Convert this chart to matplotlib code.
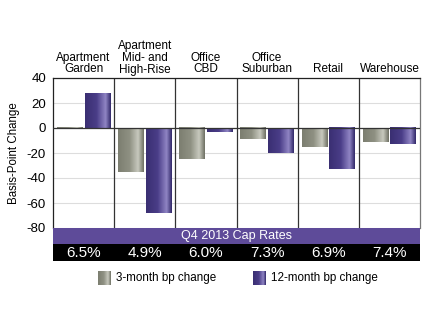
import numpy as np
import matplotlib.pyplot as plt
from matplotlib.colors import LinearSegmentedColormap

plt.rcParams['font.family'] = ['Liberation Sans', 'DejaVu Sans']

categories = ["Apartment\nGarden", "Apartment\nMid- and\nHigh-Rise", "Office\nCBD",
              "Office\nSuburban", "Retail", "Warehouse"]
change_3m = [0.6, -35, -25, -9, -15, -11]
change_12m = [28, -68, -3, -20, -33, -13]
cap_rates = ["6.5%", "4.9%", "6.0%", "7.3%", "6.9%", "7.4%"]
band_title = "Q4 2013 Cap Rates"
yticks = [40, 20, 0, -20, -40, -60, -80]

gray_cmap = LinearSegmentedColormap.from_list(
    "gray_bar", [(0, "#7c7e70"), (0.45, "#8f9183"), (0.78, "#c8c9be"), (1, "#6f7164")])
purple_cmap = LinearSegmentedColormap.from_list(
    "purple_bar", [(0, "#3a2f72"), (0.45, "#4a3d88"), (0.8, "#9085c4"), (1, "#32296a")])

fig = plt.figure(figsize=(4.32, 3.28), dpi=100)
ax = fig.add_axes([53 / 432, 100 / 328, 367 / 432, 150 / 328])

x = np.arange(len(categories))
w = 0.42
off = 0.225
grad = np.linspace(0, 1, 64).reshape(1, -1)

bars_3m = ax.bar(x - off, change_3m, w, color="#8f9183", zorder=2)
bars_12m = ax.bar(x + off, change_12m, w, color="#4a3d88", zorder=2)

# cylinder-like shading on each bar
for bars, cmap in ((bars_3m, gray_cmap), (bars_12m, purple_cmap)):
    for b in bars:
        bx, by = b.get_x(), b.get_y()
        bw, bh = b.get_width(), b.get_height()
        ax.imshow(grad, extent=[bx, bx + bw, by, by + bh], aspect="auto",
                  cmap=cmap, zorder=3, interpolation="bilinear")

ax.set_xlim(-0.5, len(categories) - 0.5)
ax.set_ylim(-80, 40)
ax.set_yticks(yticks)
ax.set_yticklabels([str(t) for t in yticks], fontsize=9.5)
ax.tick_params(axis="y", length=0, pad=5)
ax.set_xticks([])
ax.yaxis.grid(True, color="#dddddd", linewidth=0.8, zorder=0)
ax.set_axisbelow(True)
ax.axhline(0, color="#333333", linewidth=0.9, zorder=4)
for xs in x[1:] - 0.5:
    ax.axvline(xs, color="#333333", linewidth=0.9, zorder=1)
for s in ax.spines.values():
    s.set_color("#222222")
    s.set_linewidth(0.9)
ax.spines["right"].set_color("#777777")
ax.spines["bottom"].set_visible(False)
ax.set_ylabel("Basis-Point Change", fontsize=8.3, labelpad=5)

for xi, name in zip(x, categories):
    ax.text(xi, 42, name, ha="center", va="bottom", fontsize=8.5, linespacing=0.95)

# cap-rate bands under the plot
band1 = fig.add_axes([53 / 432, 84 / 328, 367 / 432, 16 / 328])
band1.set_facecolor("#5e4b99")
band1.set_xticks([]); band1.set_yticks([])
for s in band1.spines.values():
    s.set_visible(False)
band1.text(0.5, 0.5, band_title, color="white", fontsize=9, ha="center", va="center",
           transform=band1.transAxes)

band2 = fig.add_axes([53 / 432, 67 / 328, 367 / 432, 17 / 328])
band2.set_facecolor("black")
band2.set_xlim(-0.5, len(categories) - 0.5)
band2.set_ylim(0, 1)
band2.set_xticks([]); band2.set_yticks([])
for s in band2.spines.values():
    s.set_visible(False)
for xi, r in zip(x, cap_rates):
    band2.text(xi, 0.45, r, color="white", fontsize=11, ha="center", va="center")

# legend
leg = fig.add_axes([0, 0, 1, 1], facecolor="none")
leg.axis("off")
for x0, cmap, label in ((98, gray_cmap, "3-month bp change"),
                        (253, purple_cmap, "12-month bp change")):
    leg.imshow(grad, extent=[x0, x0 + 13, 285, 271], aspect="auto", cmap=cmap,
               interpolation="bilinear")
    leg.text(x0 + 18, 278, label, fontsize=8.4, ha="left", va="center")
leg.set_xlim(0, 432); leg.set_ylim(328, 0)

fig.savefig("out.png", dpi=100)
